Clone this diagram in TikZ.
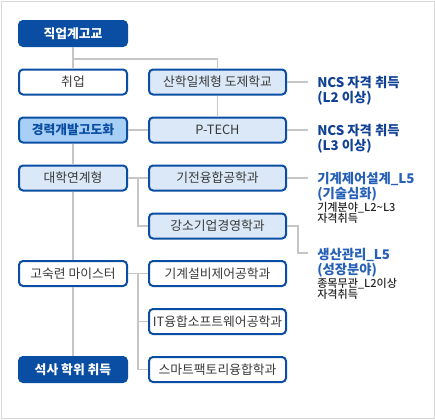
\documentclass[tikz,border=0pt]{standalone}
\usepackage{fontspec}
\setmainfont{Noto Sans CJK KR}
\newfontfamily\notefont{Noto Sans CJK KR}[UprightFont=* Medium]
\usetikzlibrary{positioning}
\definecolor{navyblue}{RGB}{10,78,163}
\definecolor{paleblue}{RGB}{219,232,247}
\definecolor{skyblue}{RGB}{168,207,245}
\definecolor{textgray}{RGB}{58,58,58}
\definecolor{linegray}{RGB}{198,198,198}
\definecolor{framegray}{RGB}{216,216,216}
\definecolor{ncsblue}{RGB}{18,66,150}
\definecolor{levelblue}{RGB}{38,96,182}

\begin{document}
\begin{tikzpicture}[x=0.75pt,y=-0.75pt,
    box/.style={draw=navyblue,line width=1.5pt,rounded corners=3pt,
      minimum height=18.75pt,inner sep=0pt,text=textgray,
      font=\fontsize{9.6pt}{11pt}\selectfont},
    leftbox/.style={box,minimum width=81pt},
    rightbox/.style={box,minimum width=102.75pt},
    goal/.style={fill=navyblue,text=white,font=\fontsize{9.6pt}{11pt}\selectfont\bfseries},
    link/.style={draw=linegray,line width=1.3pt},
    note/.style={anchor=north west,inner sep=0pt,align=left},
    ncs/.style={note,text=ncsblue,font=\fontsize{10pt}{11.25pt}\selectfont\bfseries},
    level/.style={note,text=levelblue,font=\fontsize{10pt}{11.25pt}\selectfont\bfseries},
    small/.style={note,text=black!85,font=\fontsize{8.3pt}{8.25pt}\notefont}]
    \useasboundingbox (0,0) rectangle (435,419);
    \draw[framegray] (1,1) rectangle (434,418);

    % left column
    \node[leftbox,goal] (top) at (73,33.5) {직업계고교};
    \node[leftbox,fill=white] (job) at (73,82) {취업};
    \node[leftbox,fill=skyblue,text=navyblue,font=\fontsize{9.6pt}{11pt}\selectfont\bfseries]
      (career) at (73,130) {경력개발고도화};
    \node[leftbox,fill=paleblue] (univ) at (73,178) {대학연계형};
    \node[leftbox,fill=white] (meister) at (73,273.5) {고숙련 마이스터};
    \node[leftbox,goal] (master) at (73,369.5) {석사 학위 취득};

    % right column
    \node[rightbox,fill=paleblue] (sanhak) at (217.5,82) {산학일체형 도제학교};
    \node[rightbox,fill=paleblue] (ptech) at (217.5,130) {P-TECH};
    \node[rightbox,fill=paleblue] (kijeon) at (217.5,178) {기전융합공학과};
    \node[rightbox,fill=paleblue] (gangso) at (217.5,226) {강소기업경영학과};
    \node[rightbox,fill=white] (kigye) at (217.5,273.5) {기계설비제어공학과};
    \node[rightbox,fill=white] (itsw) at (217.5,321.5) {IT융합소프트웨어공학과};
    \node[rightbox,fill=white] (smart) at (217.5,369.5) {스마트팩토리융합학과};

    % outcomes
    \node[ncs] (ncsa) at (317,75.5) {NCS 자격 취득\\(L2 이상)};
    \node[ncs] (ncsb) at (317,123.5) {NCS 자격 취득\\(L3 이상)};
    \node[level] (design) at (317,171.5) {기계제어설계\_L5\\(기술심화)};
    \node[small] (designnote) at (317,202) {기계분야\_L2\textasciitilde L3\\자격취득};
    \node[level] (prod) at (317,247.5) {생산관리\_L5\\(성장분야)};
    \node[small] (prodnote) at (317,278) {종목무관\_L2이상\\자격취득};

    % connectors
    \coordinate (fork) at (73,59);
    \draw[link] (top) -- (job);
    \draw[link] (fork) -| (sanhak);
    \draw[link] (sanhak) -- (ptech);
    \draw[link] (career) -- (ptech);
    \draw[link] (career) -- (univ);
    \draw[link] (univ) -- (kijeon);
    \coordinate (branch) at (138,178);
    \draw[link] (branch) |- (gangso);
    \draw[link] (univ) -- (meister);
    \draw[link] (meister) -- (kigye);
    \coordinate (branchb) at (138,273.5);
    \draw[link] (branchb) |- (itsw);
    \draw[link] (branchb) |- (smart);
    \draw[link] (meister) -- (master);

    \draw[link] (sanhak.east) -- ([xshift=-6.75pt]ncsa.west |- sanhak.east);
    \draw[link] (ptech.east) -- ([xshift=-6.75pt]ncsb.west |- ptech.east);
    \draw[link] (kijeon.east) -- ([xshift=-6.75pt]design.west |- kijeon.east);
    \coordinate (prodtap) at (308,253);
    \draw[link] (gangso.east) -- ++(11,0) |- (prodtap);
  \end{tikzpicture}
\end{document}
